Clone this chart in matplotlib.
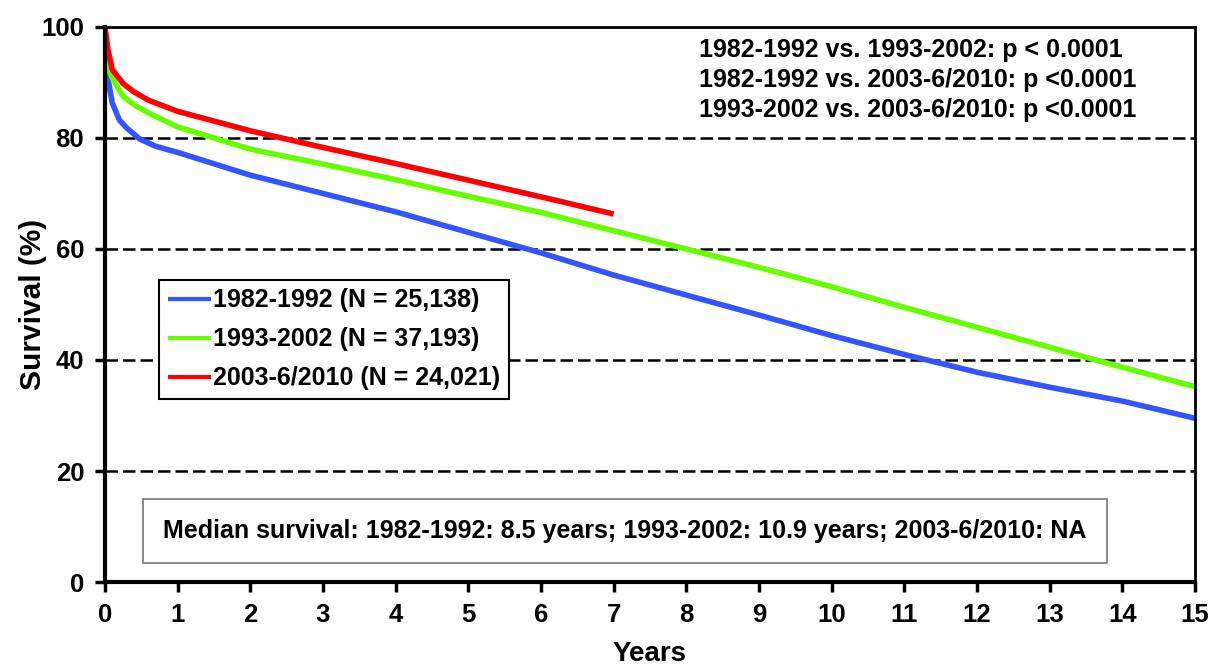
import matplotlib
matplotlib.use("Agg")
import matplotlib.pyplot as plt

plt.rcParams["font.family"] = ["Liberation Sans", "DejaVu Sans"]
plt.rcParams["font.weight"] = "bold"

# survival curves (years, survival %)
years_8292 = [0, 0.05, 0.1, 0.2, 0.3, 0.48, 0.7, 1, 2, 3, 4, 5, 6, 7, 8, 9, 10, 11, 12, 13, 14, 15]
surv_8292 = [95.5, 90, 86.3, 83.2, 81.8, 79.8, 78.5, 77.4, 73.3, 70, 66.7, 63, 59.3, 55.3, 51.7, 48.1, 44.4, 41, 37.8, 35.1, 32.6, 29.5]

years_9302 = [0, 0.05, 0.1, 0.25, 0.4, 0.6, 1, 2, 3, 4, 5, 6, 7, 8, 9, 10, 11, 12, 13, 14, 15]
surv_9302 = [96, 92.5, 90.8, 87.5, 86, 84.5, 82, 78, 75.3, 72.5, 69.5, 66.6, 63.3, 60, 56.7, 53.2, 49.5, 45.9, 42.3, 38.7, 35.2]

years_0310 = [0, 0.04, 0.1, 0.25, 0.4, 0.6, 1, 2, 3, 4, 5, 6, 7]
surv_0310 = [100, 96, 92.3, 89.8, 88.3, 86.8, 84.8, 81.3, 78.3, 75.4, 72.4, 69.4, 66.3]

labels = ["1982-1992 (N = 25,138)", "1993-2002 (N = 37,193)", "2003-6/2010 (N = 24,021)"]
colors = ["#3355ff", "#66ff00", "#ff0000"]

pvals = ["1982-1992 vs. 1993-2002: p < 0.0001",
         "1982-1992 vs. 2003-6/2010: p <0.0001",
         "1993-2002 vs. 2003-6/2010: p <0.0001"]
median_text = "Median survival: 1982-1992: 8.5 years; 1993-2002: 10.9 years; 2003-6/2010: NA"

fig = plt.figure(figsize=(12.11, 6.66), dpi=100)
ax = fig.add_axes([0.0867, 0.1261, 0.9001, 0.8334])

series = [(years_8292, surv_8292), (years_9302, surv_9302), (years_0310, surv_0310)]
for (x, y), label, color in zip(series, labels, colors):
    ax.plot(x, y, color=color, lw=4, label=label, solid_capstyle="butt")

ax.set_xlim(0, 15)
ax.set_ylim(0, 100)
ax.set_xticks(range(16))
ax.set_yticks(range(0, 101, 20))
for yv in [20, 40, 60, 80]:
    ax.axhline(yv, color="black", lw=1.8, ls=(0, (5, 2)), zorder=0)

ax.tick_params(labelsize=18.5, width=2.5, length=7, direction="out", pad=8)
for lbl in ax.get_xticklabels() + ax.get_yticklabels():
    lbl.set_fontweight("bold")
ax.spines["left"].set_linewidth(3)
ax.spines["bottom"].set_linewidth(3)
ax.spines["top"].set_linewidth(2)
ax.spines["right"].set_linewidth(2)

ax.set_xlabel("Years", fontsize=20, fontweight="bold", labelpad=10)
ax.set_ylabel("Survival (%)", fontsize=21.5, fontweight="bold")
ax.yaxis.set_label_coords(-0.053, 0.5)

leg = ax.legend(loc="upper left", bbox_to_anchor=(0.05, 0.545), fontsize=18,
                handlelength=1.7, handletextpad=0.1, borderpad=0.35,
                labelspacing=0.6, fancybox=False, framealpha=1,
                borderaxespad=0)
leg.get_frame().set_edgecolor("black")
leg.get_frame().set_linewidth(1.5)
for t in leg.get_texts():
    t.set_fontweight("bold")
for h in leg.get_lines():
    h.set_linewidth(3)

for i, line in enumerate(pvals):
    ax.text(0.545, 0.958 - i * 0.054, line, transform=ax.transAxes,
            fontsize=18, fontweight="bold", va="center", ha="left")

ax.text(0.477, 0.092, median_text, transform=ax.transAxes, fontsize=18,
        fontweight="bold", ha="center", va="center",
        bbox=dict(boxstyle="square,pad=0.8", fc="white", ec="#777777", lw=1.2))

fig.savefig("out.png", dpi=100)
